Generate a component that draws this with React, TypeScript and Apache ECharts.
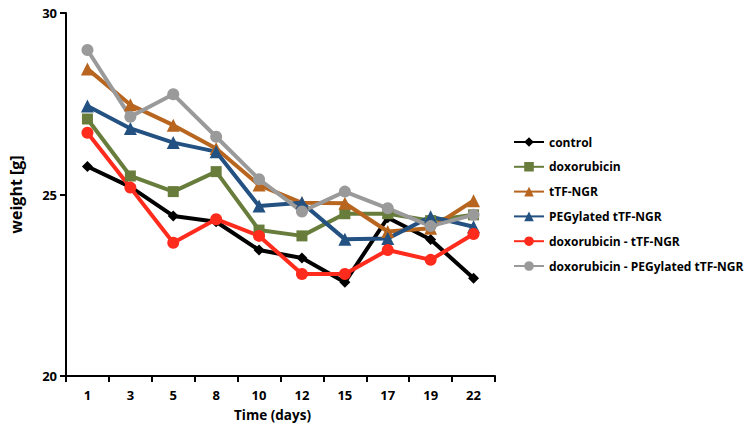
import React, { useEffect, useRef } from "react";
import * as echarts from "echarts";

const days = ["1", "3", "5", "8", "10", "12", "15", "17", "19", "22"];
const control = [25.77, 25.21, 24.41, 24.25, 23.47, 23.25, 22.58, 24.36, 23.76, 22.69];
const doxorubicin = [27.08, 25.51, 25.08, 25.63, 24.02, 23.86, 24.47, 24.47, 24.28, 24.44];
const ttfNgr = [28.46, 27.47, 26.91, 26.27, 25.26, 24.77, 24.76, 23.98, 24.07, 24.83];
const pegTtfNgr = [27.44, 26.82, 26.43, 26.18, 24.68, 24.77, 23.77, 23.79, 24.39, 24.11];
const doxTtfNgr = [26.7, 25.19, 23.67, 24.32, 23.86, 22.81, 22.81, 23.47, 23.2, 23.91];
const doxPegTtfNgr = [28.98, 27.14, 27.76, 26.59, 25.42, 24.53, 25.08, 24.62, 24.13, 24.44];

const FONT = "'Open Sans', sans-serif";

export default function App() {
  const ref = useRef<HTMLDivElement>(null);
  useEffect(() => {
    if (!ref.current) return;
    const chart = echarts.init(ref.current, undefined, { renderer: "svg" });
    const mk = (name: string, data: number[], color: string, symbol: string, size: number) => ({
      name,
      type: "line",
      data,
      symbol,
      symbolSize: size,
      lineStyle: { color, width: 4 },
      itemStyle: { color },
      z: 2,
    });
    chart.setOption({
      animation: false,
      backgroundColor: "#ffffff",
      grid: { left: 61, top: 13, right: 252, bottom: 57, containLabel: false },
      legend: {
        orient: "vertical",
        left: 508,
        top: 131,
        itemWidth: 30,
        itemHeight: 12,
        itemGap: 12.8,
        textStyle: { fontFamily: FONT, fontWeight: "bold", fontSize: 12, color: "#000" },
        data: [
          "control",
          "doxorubicin",
          "tTF-NGR",
          "PEGylated tTF-NGR",
          "doxorubicin - tTF-NGR",
          "doxorubicin - PEGylated tTF-NGR",
        ],
      },
      xAxis: {
        type: "category",
        data: days,
        boundaryGap: true,
        name: "Time (days)",
        nameLocation: "middle",
        nameGap: 32,
        nameTextStyle: {
          fontFamily: FONT,
          fontWeight: "bold",
          fontSize: 13.5,
          color: "#000",
          padding: [0, 16, 0, 0],
        },
        axisLine: { lineStyle: { color: "#000", width: 2 } },
        axisTick: { show: true, length: 6, lineStyle: { color: "#000", width: 2 } },
        axisLabel: { fontFamily: FONT, fontWeight: "bold", fontSize: 13, color: "#000", margin: 12 },
        splitLine: { show: false },
      },
      yAxis: {
        type: "value",
        min: 20,
        max: 30,
        interval: 5,
        name: "weight [g]",
        nameLocation: "middle",
        nameGap: 42,
        nameTextStyle: { fontFamily: FONT, fontWeight: "bold", fontSize: 16, color: "#000" },
        axisLine: { show: true, lineStyle: { color: "#000", width: 2 } },
        axisTick: { show: true, length: 6, lineStyle: { color: "#000", width: 2 } },
        axisLabel: { fontFamily: FONT, fontWeight: "bold", fontSize: 13, color: "#000", margin: 9 },
        splitLine: { show: false },
      },
      series: [
        mk("control", control, "#000000", "diamond", 11),
        mk("doxorubicin", doxorubicin, "#687d3b", "rect", 11),
        mk("tTF-NGR", ttfNgr, "#b7651f", "triangle", 13),
        mk("PEGylated tTF-NGR", pegTtfNgr, "#235181", "triangle", 13),
        mk("doxorubicin - tTF-NGR", doxTtfNgr, "#ff2b1c", "circle", 12),
        mk("doxorubicin - PEGylated tTF-NGR", doxPegTtfNgr, "#9a9a9a", "circle", 12),
      ],
    });
    return () => chart.dispose();
  }, []);
  return <div ref={ref} style={{ width: 747, height: 433, position: "absolute", left: 0, top: 0 }} />;
}
